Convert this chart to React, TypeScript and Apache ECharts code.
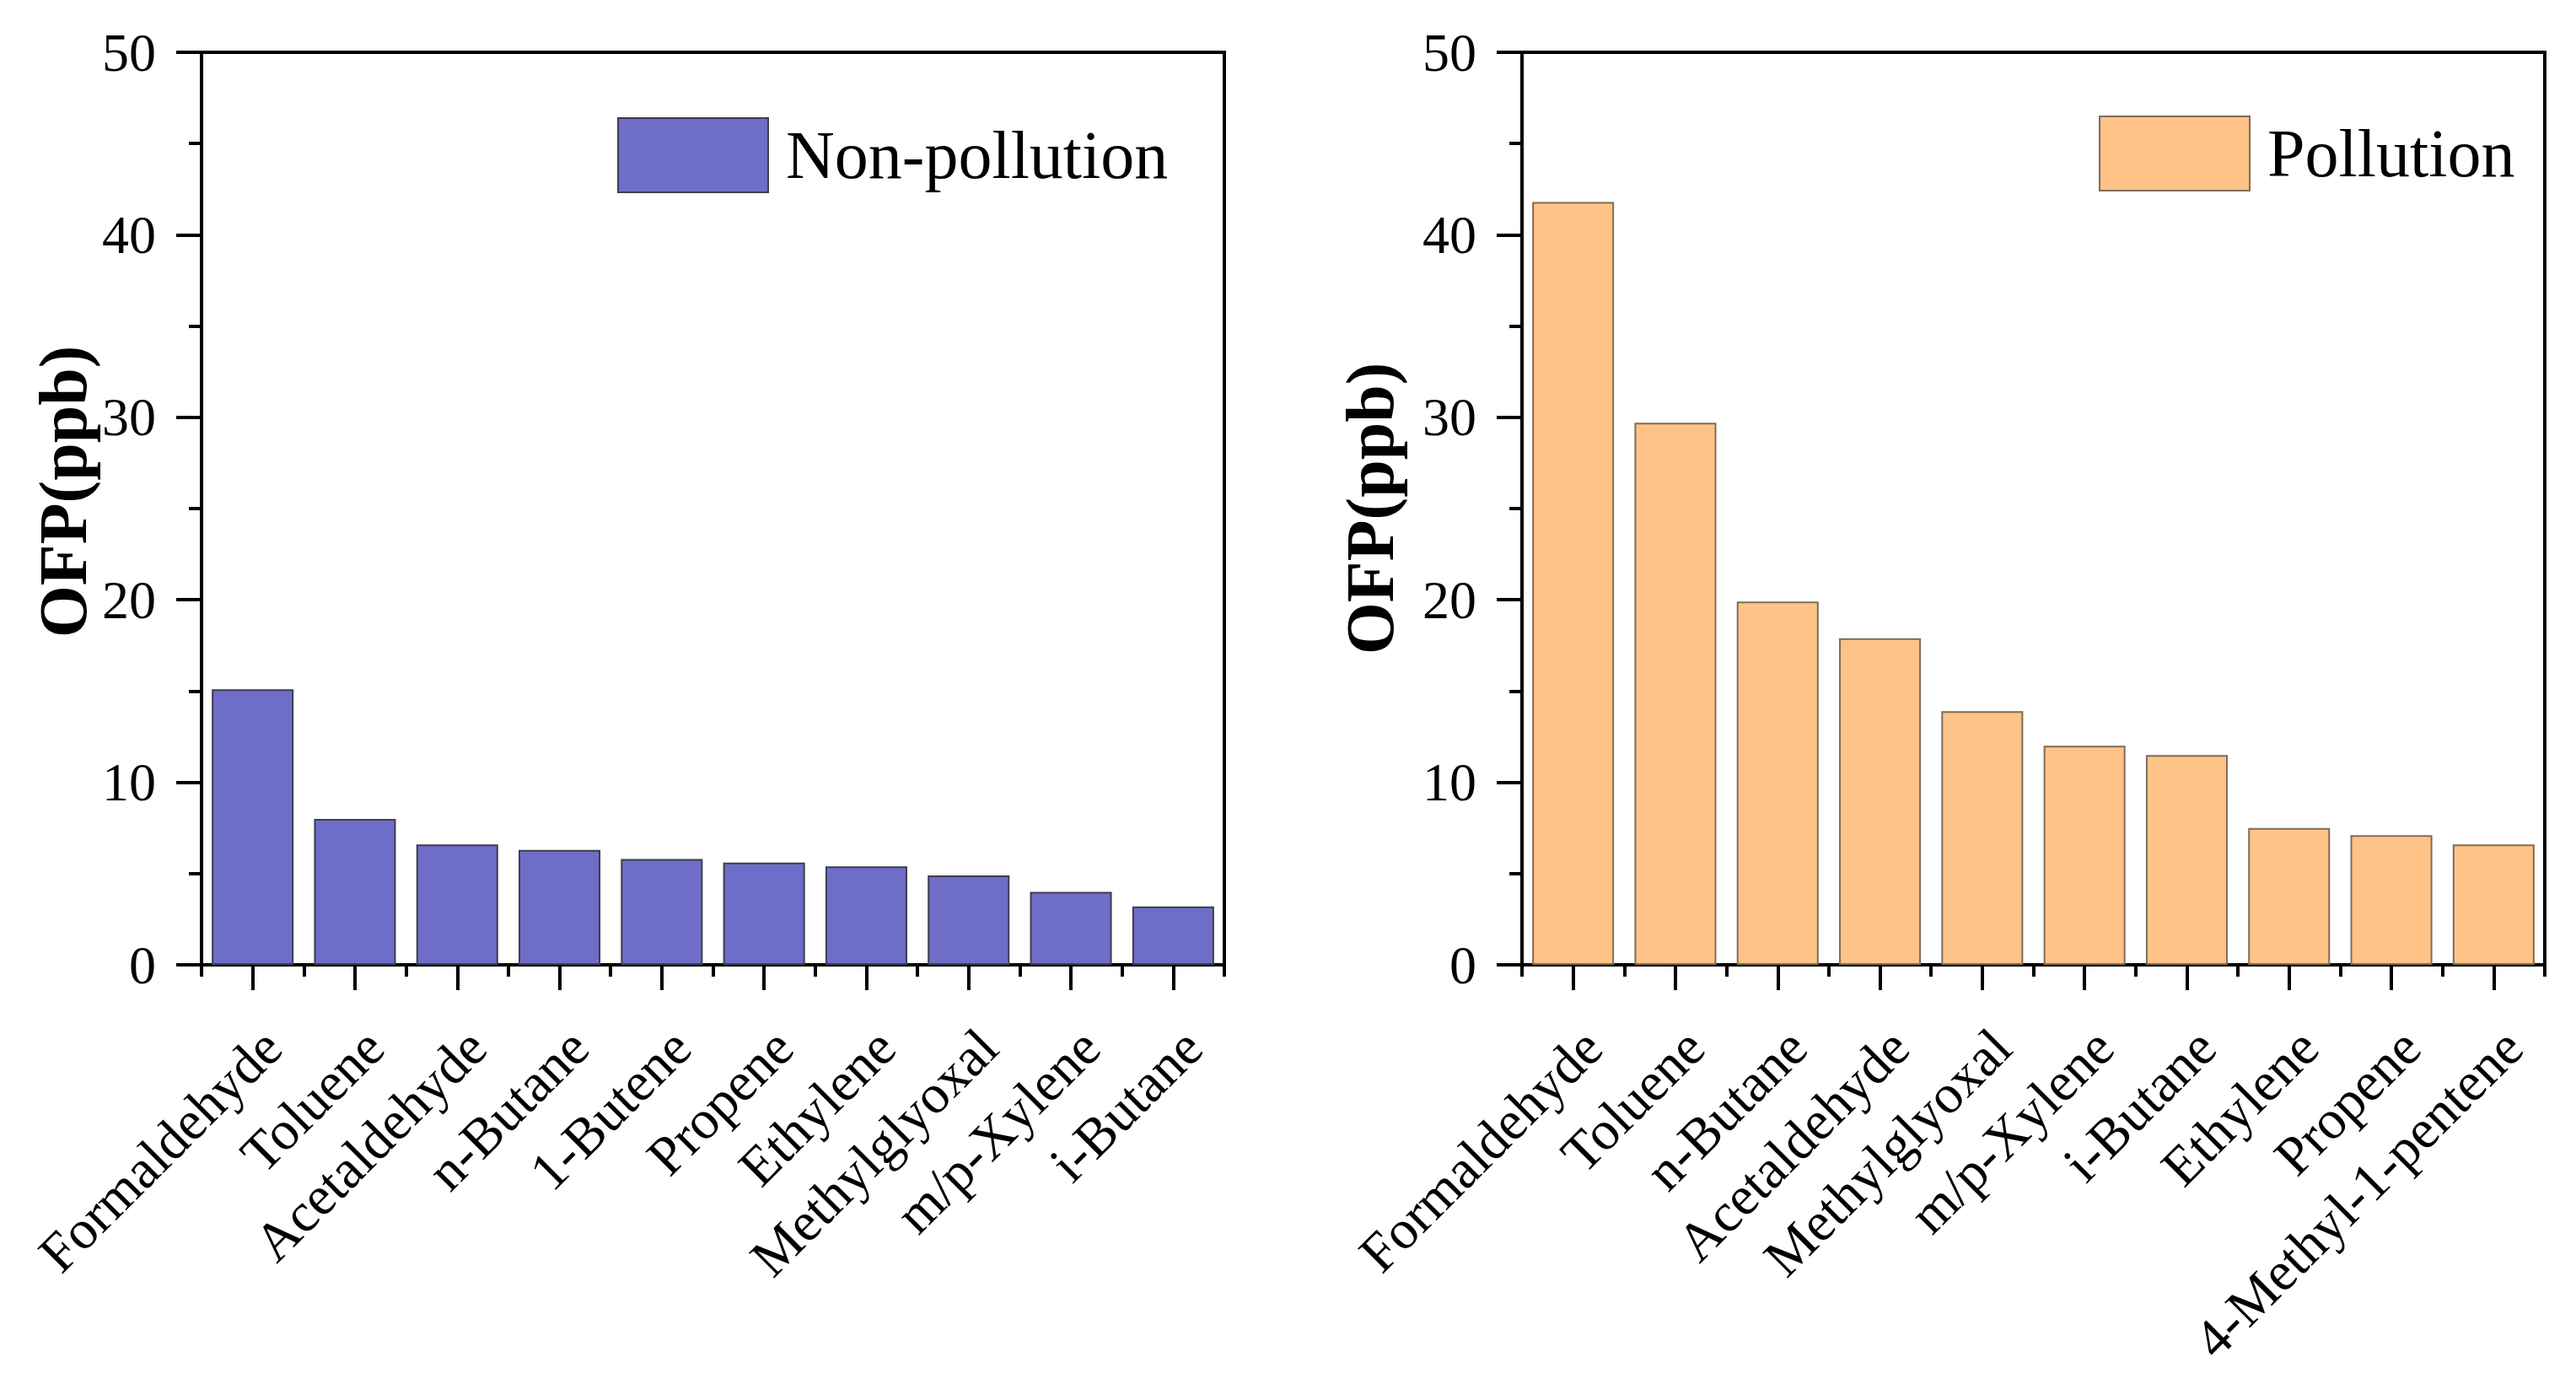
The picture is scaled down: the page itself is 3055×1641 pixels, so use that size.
import React, { useEffect, useRef } from "react";
import * as echarts from "echarts";

const categoriesNon = ["Formaldehyde", "Toluene", "Acetaldehyde", "n-Butane", "1-Butene", "Propene", "Ethylene", "Methylglyoxal", "m/p-Xylene", "i-Butane"];
const valuesNon = [15.1, 8.0, 6.6, 6.3, 5.8, 5.6, 5.4, 4.9, 4.0, 3.2];

const categoriesPol = ["Formaldehyde", "Toluene", "n-Butane", "Acetaldehyde", "Methylglyoxal", "m/p-Xylene", "i-Butane", "Ethylene", "Propene", "4-Methyl-1-pentene"];
const valuesPol = [41.8, 29.7, 19.9, 17.9, 13.9, 12.0, 11.5, 7.5, 7.1, 6.6];

const yMin = 0;
const yMax = 50;
const yInterval = 10;
const yTitle = "OFP(ppb)";
const seriesNames = ["Non-pollution", "Pollution"];

const FONT = "'Liberation Serif', 'Times New Roman', serif";

export default function App() {
  const ref = useRef<HTMLDivElement>(null);

  useEffect(() => {
    if (!ref.current) return;
    const chart = echarts.init(ref.current, null, { renderer: "svg" });

    const grids = [
      { left: 239, top: 62, width: 1213, height: 1082 },
      { left: 1805, top: 62, width: 1213, height: 1082 },
    ];

    const mainX = (gridIndex: number, data: string[]) => ({
      type: "category",
      gridIndex,
      data,
      position: "bottom",
      axisLine: { show: true, lineStyle: { color: "#000", width: 4 } },
      axisTick: { show: true, alignWithLabel: true, interval: 0, length: 30, lineStyle: { color: "#000", width: 4 } },
      axisLabel: {
        interval: 0,
        rotate: 45,
        fontSize: 65,
        fontFamily: FONT,
        color: "#000",
        margin: 64,
        align: "right",
        verticalAlign: "top",
        padding: [0, 0, 0, 0],
      },
      splitLine: { show: false },
    });

    const boundX = (gridIndex: number, data: string[]) => ({
      type: "category",
      gridIndex,
      data,
      position: "bottom",
      axisLine: { show: false },
      axisTick: { show: true, alignWithLabel: false, interval: 0, length: 14, lineStyle: { color: "#000", width: 4 } },
      axisLabel: { show: false },
      splitLine: { show: false },
    });

    const yAx = (gridIndex: number, nameGap: number, pad: number[]) => ({
      type: "value",
      gridIndex,
      min: yMin,
      max: yMax,
      interval: yInterval,
      axisLine: { show: true, lineStyle: { color: "#000", width: 4 } },
      axisTick: { show: true, length: 30, lineStyle: { color: "#000", width: 4 } },
      minorTick: { show: true, splitNumber: 2, length: 15, lineStyle: { color: "#000", width: 4 } },
      splitLine: { show: false },
      minorSplitLine: { show: false },
      axisLabel: { fontSize: 64, fontFamily: FONT, color: "#000", margin: 54 },
      name: yTitle,
      nameLocation: "middle",
      nameGap,
      nameRotate: 90,
      nameTextStyle: { fontSize: 80, fontWeight: "bold", fontFamily: FONT, color: "#000", padding: pad },
    });

    const legend = (name: string, left: number, top: number) => ({
      data: [name],
      left,
      top,
      orient: "horizontal",
      padding: 0,
      itemWidth: 178,
      itemHeight: 88,
      icon: "rect",
      selectedMode: false,
      textStyle: { fontSize: 80, fontFamily: FONT, color: "#000", padding: [0, 0, 0, 16] },
    });

    const option = {
      animation: false,
      backgroundColor: "#fff",
      grid: grids.map((g) => ({ ...g, show: true, borderColor: "#000", borderWidth: 4, backgroundColor: "transparent" })),
      legend: [legend(seriesNames[0], 732, 139), legend(seriesNames[1], 2489, 137)],
      xAxis: [mainX(0, categoriesNon), boundX(0, categoriesNon), mainX(1, categoriesPol), boundX(1, categoriesPol)],
      yAxis: [yAx(0, 124, [0, 0, 0, 40]), yAx(1, 140, [0, 0, 0, 0])],
      series: [
        {
          name: seriesNames[0],
          type: "bar",
          xAxisIndex: 0,
          yAxisIndex: 0,
          data: valuesNon,
          barCategoryGap: "20%",
          itemStyle: { color: "#6E6EC8", borderColor: "#3c3c50", borderWidth: 2 },
        },
        {
          name: seriesNames[1],
          type: "bar",
          xAxisIndex: 2,
          yAxisIndex: 1,
          data: valuesPol,
          barCategoryGap: "20%",
          itemStyle: { color: "#FFC387", borderColor: "#7f6b58", borderWidth: 2 },
        },
      ],
    };

    chart.setOption(option as any);
    return () => chart.dispose();
  }, []);

  return (
    <div
      ref={ref}
      style={{ position: "fixed", left: 0, top: 0, width: "3055px", height: "1641px", background: "#fff" }}
    />
  );
}
